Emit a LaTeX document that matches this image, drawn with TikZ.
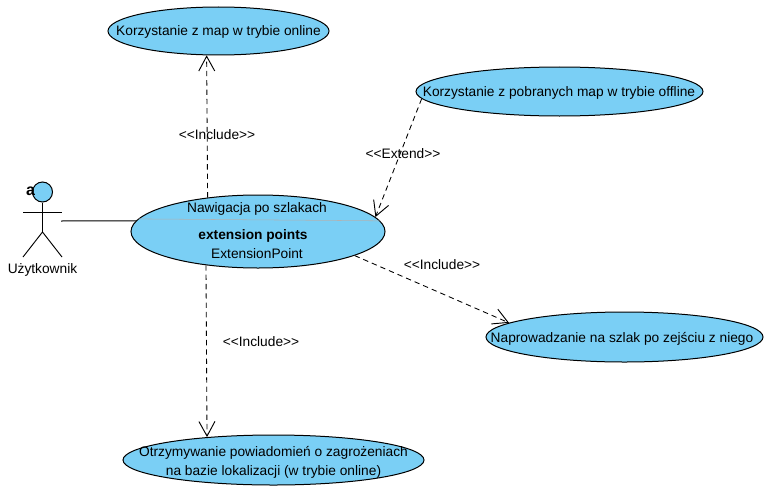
\documentclass[tikz,border=0pt]{standalone}
\usepackage{fontspec}
\setmainfont{Liberation Sans}
\usetikzlibrary{shapes.geometric,arrows.meta}
\definecolor{ucfill}{RGB}{122,207,245}
\tikzset{
 x=0.75pt,y=-0.75pt,
 uc/.style={draw=black,fill=ucfill,ellipse,inner sep=0pt,line width=0.75pt},
 lbl/.style={inner sep=0pt,align=center,font=\fontsize{10.3pt}{14.25pt}\selectfont},
 dep/.style={draw=black,line width=0.65pt,dash pattern=on 4pt off 3pt,-{Straight Barb[length=11pt,width=12pt,line width=0.7pt]}},
 assoc/.style={draw=black,line width=0.75pt},
 limb/.style={draw=black,line width=0.7pt}
}
\begin{document}
\begin{tikzpicture}
\useasboundingbox (0,0) rectangle (773,492);
\fill[white] (0,0) rectangle (773,492);
\node[uc,minimum width=165.75pt,minimum height=36pt] (online) at (218.5,31) {};
\node[lbl] (onlinet) at (218.5,32) {Korzystanie z map w trybie online};
\node[uc,minimum width=215.25pt,minimum height=36.75pt] (offline) at (559.5,91.5) {};
\node[lbl] (offlinet) at (559,92.5) {Korzystanie z pobranych map w trybie offline};
\node[uc,minimum width=190.5pt,minimum height=54.75pt] (main) at (258,231.5) {};
\node[uc,minimum width=207.75pt,minimum height=37.5pt] (guide) at (624.5,337) {};
\node[lbl] (guidet) at (622,339) {Naprowadzanie na szlak po zejściu z niego};
\node[uc,minimum width=225.75pt,minimum height=37.5pt] (alert) at (273.5,460) {};
\node[lbl] (alertt) at (273.5,462) {Otrzymywanie powiadomień o zagrożeniach\\na bazie lokalizacji (w trybie online)};
\draw[draw=black!30,line width=0.4pt] (main.174.55) -- (main.5.45);
\node[lbl] (mname) at (257,209) {Nawigacja po szlakach};
\node[lbl,font=\fontsize{10.3pt}{14pt}\bfseries\selectfont] (mext) at (253,235.5) {extension points};
\node[lbl] (mpoint) at (257,254) {ExtensionPoint};
% actor
\node[draw=black,fill=ucfill,circle,minimum size=15pt,inner sep=0pt,line width=0.75pt] (head) at (42.5,192) {};
\node[inner sep=0pt,font=\fontsize{12pt}{14pt}\bfseries\selectfont] (amark) at (30.5,191) {a};
\coordinate (neck) at (42.5,232);
\coordinate (armL) at (23,212);
\coordinate (armR) at (62,212);
\coordinate (footL) at (23,257);
\coordinate (footR) at (62,257);
\coordinate (hand) at (61,221);
\draw[limb] (head) -- (neck);
\draw[limb] (armL) -- (armR);
\draw[limb] (footL) -- (neck) -- (footR);
\node[lbl] (actor) at (42.5,269.5) {Użytkownik};
\draw[assoc] (hand) -- (main.175);
\draw[dep] (main.146.8) -- (online.244.4);
\draw[dep] (main.213.2) -- (alert.161.4);
\draw[dep] (offline.183.5) -- (main.7);
\draw[dep] (main.-14) -- (guide.173.2);
\node[lbl] (l1) at (217,135) {<{}<Include>{}>};
\node[lbl] (l2) at (403,154) {<{}<Extend>{}>};
\node[lbl] (l3) at (442,265) {<{}<Include>{}>};
\node[lbl] (l4) at (261,342) {<{}<Include>{}>};
\end{tikzpicture}
\end{document}
